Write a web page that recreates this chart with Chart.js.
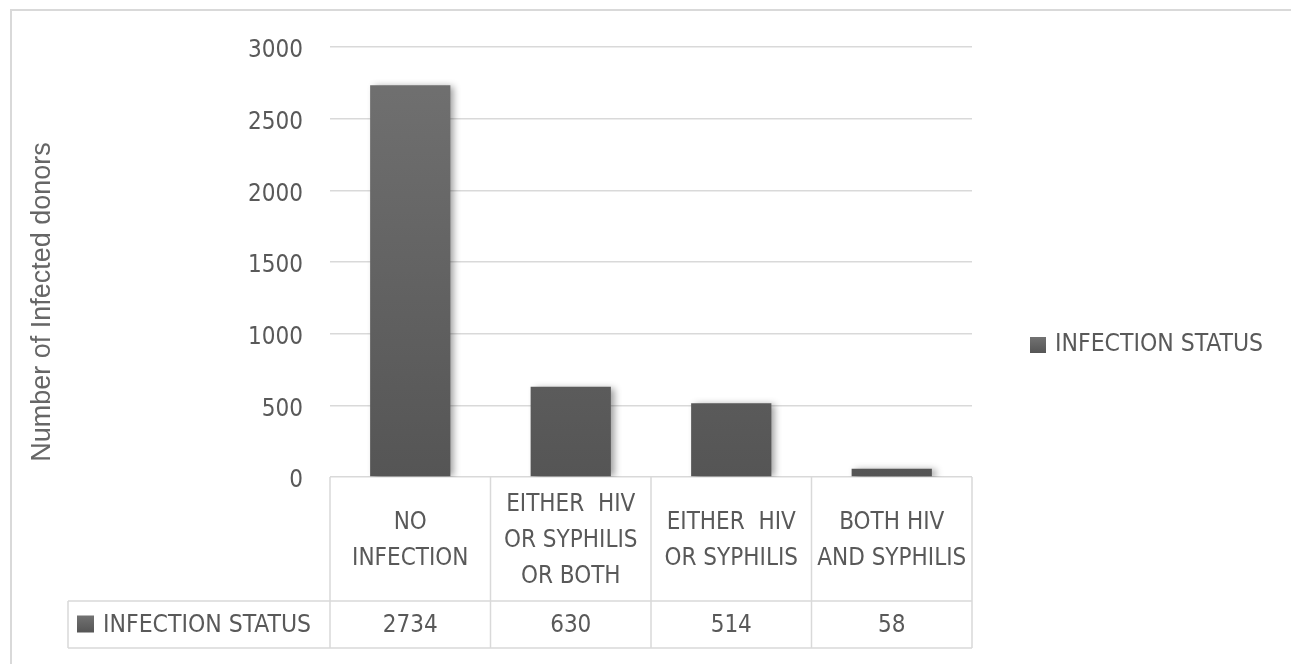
<!DOCTYPE html>
<html>
<head>
<meta charset="utf-8">
<script src="https://cdn.jsdelivr.net/npm/chart.js@4/dist/chart.umd.min.js"></script>
<style>
  html, body { margin: 0; padding: 0; background: #ffffff; }
  #wrap { width: 1291px; height: 664px; position: relative; }
</style>
</head>
<body>
<div id="wrap"><canvas id="c" width="1291" height="664"></canvas></div>
<script>
// ---- data ----
const categories = [
  ["NO", "INFECTION"],
  ["EITHER  HIV", "OR SYPHILIS", "OR BOTH"],
  ["EITHER  HIV", "OR SYPHILIS"],
  ["BOTH HIV", "AND SYPHILIS"]
];
const seriesName = "INFECTION STATUS";
const values = [2734, 630, 514, 58];
const yTicks = [0, 500, 1000, 1500, 2000, 2500, 3000];
const yTitle = "Number of Infected donors";

const TEXT = "#595959";
const LINE = "#d9d9d9";
const NARROW = "'Liberation Sans Narrow', 'DejaVu Sans Condensed', sans-serif";

function barGradient(ctx) {
  const chart = ctx.chart;
  const area = chart.chartArea;
  if (!area) return "#626262";
  const g = chart.ctx.createLinearGradient(0, area.top, 0, area.bottom);
  g.addColorStop(0, "#727272");
  g.addColorStop(1, "#555555");
  return g;
}

const decor = {
  id: "decor",
  beforeDatasetsDraw(chart) {
    const c = chart.ctx;
    c.save();
    c.shadowColor = "rgba(0,0,0,0.38)";
    c.shadowBlur = 7;
    c.shadowOffsetX = 4;
    c.shadowOffsetY = 1;
  },
  afterDatasetsDraw(chart) {
    chart.ctx.restore();
  },
  afterDraw(chart) {
    const c = chart.ctx;
    const x = chart.scales.x;
    const area = chart.chartArea;
    const n = chart.data.labels.length;
    const cw = (area.right - area.left) / n;
    c.save();
    // outer frame (top + left visible)
    c.strokeStyle = LINE;
    c.lineWidth = 2;
    c.beginPath();
    c.moveTo(11, 664); c.lineTo(11, 10); c.lineTo(1291, 10);
    c.stroke();

    // data table
    const tableLeft = 68;
    const headBottom = 601;
    const rowBottom = 648;
    c.lineWidth = 1.5;
    c.beginPath();
    for (let i = 0; i <= n; i++) {
      const xx = area.left + i * cw;
      c.moveTo(xx, area.bottom); c.lineTo(xx, rowBottom);
    }
    c.moveTo(tableLeft, headBottom); c.lineTo(area.right, headBottom);
    c.moveTo(tableLeft, rowBottom); c.lineTo(area.right, rowBottom);
    c.moveTo(tableLeft, headBottom); c.lineTo(tableLeft, rowBottom);
    c.stroke();

    c.fillStyle = TEXT;
    c.textAlign = "center";
    c.textBaseline = "middle";
    const lh = 36;
    chart.data.labels.forEach((lab, i) => {
      const cx = x.getPixelForValue(i);
      const lines = Array.isArray(lab) ? lab : [lab];
      const midY = (area.bottom + headBottom) / 2 + 2;
      const y0 = midY - (lines.length - 1) * lh / 2;
      c.font = "24px " + NARROW;
      lines.forEach((ln, k) => c.fillText(ln, cx, y0 + k * lh));
      c.font = "24px " + NARROW;
      c.fillText(String(chart.data.datasets[0].data[i]), cx, (headBottom + rowBottom) / 2 + 1);
    });
    // legend key in table
    const ds = chart.data.datasets[0];
    const rowMid = (headBottom + rowBottom) / 2;
    drawKey(c, 77, rowMid - 9, 17);
    c.textAlign = "left";
    c.fillStyle = TEXT;
    c.font = "24.5px " + NARROW;
    c.fillText(ds.label, 103, rowMid + 1);

    // right legend
    drawKey(c, 1030, 337, 16);
    c.fillStyle = TEXT;
    c.fillText(ds.label, 1055, 345);

    // y title
    c.save();
    c.translate(43, 302);
    c.rotate(-Math.PI / 2);
    c.textAlign = "center";
    c.font = "27px 'Liberation Sans', sans-serif";
    c.fillStyle = "#666666";
    c.fillText(yTitle, 0, 0);
    c.restore();
    c.restore();
  }
};

function drawKey(c, x, y, s) {
  const g = c.createLinearGradient(0, y, 0, y + s);
  g.addColorStop(0, "#727272");
  g.addColorStop(1, "#555555");
  c.fillStyle = g;
  c.fillRect(x, y, s, s);
}

new Chart(document.getElementById("c"), {
  type: "bar",
  data: {
    labels: categories,
    datasets: [{
      label: seriesName,
      data: values,
      backgroundColor: barGradient,
      borderWidth: 0,
      barPercentage: 0.5,
      categoryPercentage: 1.0
    }]
  },
  options: {
    responsive: false,
    animation: false,
    devicePixelRatio: 1,
    layout: { padding: { top: 47, right: 319, bottom: 187, left: 0 } },
    plugins: {
      legend: { display: false },
      tooltip: { enabled: false }
    },
    scales: {
      x: {
        display: false,
        grid: { display: false }
      },
      y: {
        min: 0,
        max: 3000,
        afterBuildTicks(scale) { scale.ticks = yTicks.map(v => ({ value: v })); },
        afterFit(scale) { scale.width = 330; },
        border: { display: false },
        grid: { color: LINE, lineWidth: 1.5, drawTicks: false },
        ticks: {
          color: TEXT,
          padding: 27,
          labelOffset: 4,
          font: { family: NARROW, size: 24 },
          callback: (v) => String(v)
        }
      }
    }
  },
  plugins: [decor]
});
</script>
</body>
</html>
